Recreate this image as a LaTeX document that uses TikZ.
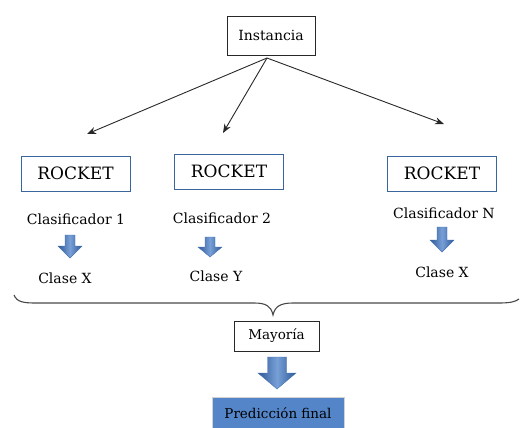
\documentclass[tikz,border=0pt]{standalone}
\usepackage{fontspec}
\setmainfont{DejaVu Serif}
\usetikzlibrary{arrows.meta}
\definecolor{boxblue}{RGB}{58,102,160}
\definecolor{arrowblue}{RGB}{66,114,180}
\definecolor{arrowdark}{RGB}{46,88,150}
\definecolor{arrowlight}{RGB}{120,160,215}
\definecolor{predfill}{RGB}{84,133,200}
\definecolor{lineink}{RGB}{40,40,40}

% downward block arrow: centre x, top y, bottom y, shaft width, head width, head start y
\newcommand{\dnblk}[6]{%
  \path[left color=arrowdark, right color=arrowdark, middle color=arrowlight, draw=arrowblue, line width=0.4pt]
    ({#1-#4/2},#2) -- ({#1+#4/2},#2) -- ({#1+#4/2},#6) -- ({#1+#5/2},#6)
    -- (#1,#3) -- ({#1-#5/2},#6) -- ({#1-#4/2},#6) -- cycle;}

\begin{document}
\begin{tikzpicture}[x=1pt,y=-1pt,
  plain/.style={draw=lineink, line width=0.8pt, fill=white, inner sep=0pt},
  rocketbox/.style={draw=boxblue, line width=0.9pt, minimum width=109pt, minimum height=35pt, inner sep=0pt,
    font=\fontsize{17}{20}\selectfont},
  label14/.style={font=\fontsize{14}{16}\selectfont, inner sep=0pt},
  fan/.style={draw=lineink, line width=0.9pt, -{Stealth[length=9pt,width=7pt]}}]
\useasboundingbox (0,0) rectangle (520,428);

% input
\node[plain, minimum width=88pt, minimum height=39pt, font=\fontsize{14}{16}\selectfont] (inst) at (271,35.5) {Instancia};
\coordinate (apex) at (267,58);
\coordinate (t1) at (87,134);
\coordinate (t2) at (223,133);
\coordinate (t3) at (444,124);
\draw[fan] (apex) -- (t1);
\draw[fan] (apex) -- (t2);
\draw[fan] (apex) -- (t3);

% ensemble members
\node[rocketbox] (r1) at (75.5,173.5) {ROCKET};
\node[rocketbox] (r2) at (229,171.5) {ROCKET};
\node[rocketbox] (r3) at (442,173.5) {ROCKET};

\node[label14] (c1) at (76,219) {Clasificador 1};
\node[label14] (c2) at (222,218) {Clasificador 2};
\node[label14] (c3) at (444,213) {Clasificador N};

\dnblk{70}{235}{258}{10}{24}{246}
\dnblk{210}{237}{257}{10}{24}{247}
\dnblk{442}{227}{252}{10}{24}{240}

\node[label14] (k1) at (65,278) {Clase X};
\node[label14] (k2) at (216,276) {Clase Y};
\node[label14] (k3) at (442,272) {Clase X};

% brace gathering the votes
\draw[draw=lineink!85, line width=1.1pt]
  (14,295) .. controls (17,302) and (23,303) .. (36,303) -- (254,303)
  .. controls (266,303) and (271,306) .. (273,315)
  .. controls (275,306) and (281,303) .. (293,303) -- (498,303)
  .. controls (510,303) and (515,302) .. (519,299);

% aggregation
\node[plain, minimum width=85pt, minimum height=30pt, font=\fontsize{13.5}{16}\selectfont] (may) at (276.5,336) {Mayoría};
\dnblk{277}{357}{389}{19}{38}{373}

\node[fill=predfill, draw=gray!35, line width=0.8pt, minimum width=132pt, minimum height=32pt, inner sep=0pt,
  font=\fontsize{13.5}{16}\selectfont] (pred) at (278,413) {Predicción final};
\end{tikzpicture}
\end{document}
